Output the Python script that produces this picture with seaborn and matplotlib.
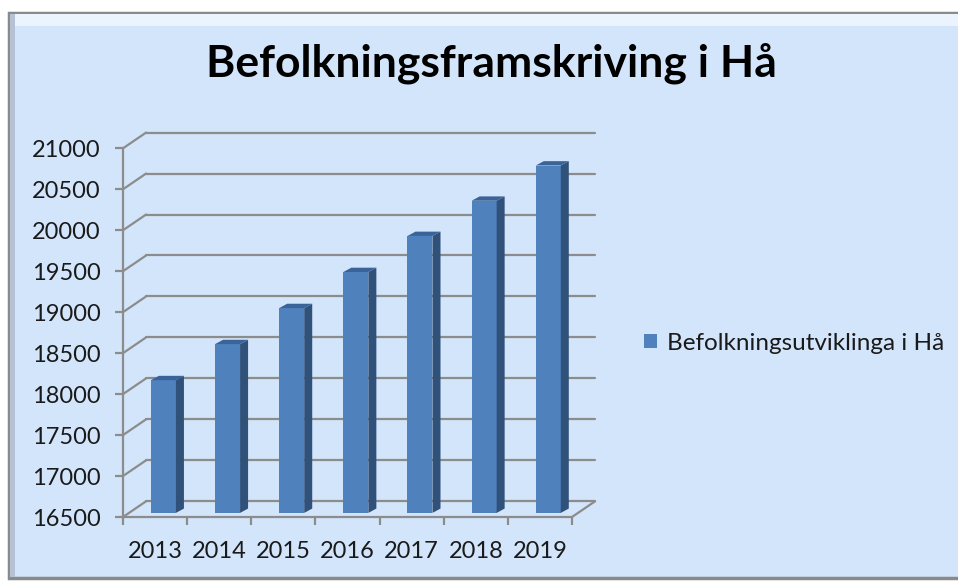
import numpy as np
import pandas as pd
import matplotlib.pyplot as plt
import seaborn as sns
from matplotlib.patches import Rectangle, Polygon

years = ['2013', '2014', '2015', '2016', '2017', '2018', '2019']
pop = [18120, 18560, 19000, 19440, 19880, 20310, 20740]
series_name = 'Befolkningsutviklinga i Hå'
title = 'Befolkningsframskriving i Hå'
y_ticks = list(range(16500, 21001, 500))

df = pd.DataFrame({'year': years, 'pop': pop})

sns.set_style('white')
plt.rcParams['font.family'] = ['Lato', 'DejaVu Sans']

fig = plt.figure(figsize=(9.58, 5.81), dpi=100)
fig.patch.set_facecolor('white')

# chart area
W, H = 958, 581
fig.patches.append(Rectangle((9 / W, 1 - 578 / H), 960 / W, (578 - 13) / H,
                             transform=fig.transFigure, facecolor='#D3E5FB',
                             edgecolor='#8A8A8A', linewidth=2.5, zorder=-5))
fig.patches.append(Rectangle((11 / W, 1 - 26 / H), 960 / W, 12 / H,
                             transform=fig.transFigure, facecolor='#EAF3FE',
                             edgecolor='none', zorder=-4))
fig.patches.append(Rectangle((10 / W, 1 - 577 / H), 5 / W, (577 - 14) / H,
                             transform=fig.transFigure, facecolor='#B4C2D4',
                             edgecolor='none', zorder=-4))

ax = fig.add_axes([123 / W, 1 - 517 / H, 449 / W, (517 - 148.3) / H])
ax.set_facecolor('none')

grid_c = '#8C8C8C'
ymin, ymax = 16500, 21000
DX, DY = 0.36, 192      # depth of the floor / back wall
SX, SY = 0.13, 50       # front face offset of bars
BX, BY = 0.125, 53      # bar depth

sns.barplot(data=df, x='year', y='pop', color='#4F81BD', width=0.39,
            saturation=1, linewidth=0, label=series_name, ax=ax, zorder=3)

# back wall gridlines and the floor/wall diagonals
n = len(years)
for v in y_ticks:
    ax.plot([-0.5 + DX, n - 0.5 + DX], [v + DY, v + DY], color=grid_c, lw=1.6,
            clip_on=False, zorder=1)
    ax.plot([-0.5, -0.5 + DX], [v, v + DY], color=grid_c, lw=1.6,
            clip_on=False, zorder=1)
ax.plot([n - 0.5, n - 0.5 + DX], [ymin, ymin + DY], color=grid_c, lw=1.6,
        clip_on=False, zorder=1)

# turn flat bars into 3d-looking boxes
for p, val in zip(ax.patches, pop):
    x0 = p.get_x() + SX
    w = p.get_width()
    base = ymin + SY
    top = val + SY
    p.set_x(x0)
    p.set_y(base)
    p.set_height(top - base)
    p.set_clip_on(False)
    side = Polygon([(x0 + w, base), (x0 + w, top), (x0 + w + BX, top + BY),
                    (x0 + w + BX, base + BY)], closed=True,
                   facecolor='#30527A', edgecolor='none', zorder=3, clip_on=False)
    cap = Polygon([(x0, top), (x0 + w, top), (x0 + w + BX, top + BY),
                   (x0 + BX, top + BY)], closed=True,
                  facecolor='#3A6397', edgecolor='none', zorder=3, clip_on=False)
    ax.add_patch(side)
    ax.add_patch(cap)

ax.set_xlim(-0.5, n - 0.5)
ax.set_ylim(ymin, ymax)
ax.set_yticks(y_ticks)
ax.set_yticklabels([str(t) for t in y_ticks])
ax.set_xticks(range(n))
ax.set_xticklabels(years)
ax.set_xticks(np.arange(-0.5, n, 1), minor=True)
ax.set_xlabel('')
ax.set_ylabel('')

for s in ['top', 'right']:
    ax.spines[s].set_visible(False)
for s in ['left', 'bottom']:
    ax.spines[s].set_color(grid_c)
    ax.spines[s].set_linewidth(1.6)

ax.tick_params(axis='y', length=6, width=1.6, color=grid_c, labelsize=17,
               labelcolor='#1A1A1A', pad=10, left=True)
ax.tick_params(axis='x', which='major', length=0, labelsize=17,
               labelcolor='#1A1A1A', pad=17)
ax.tick_params(axis='x', which='minor', length=6, width=1.6, color=grid_c,
               bottom=True)

leg = ax.legend(loc='center left', bbox_to_anchor=(644 / W, 1 - 343 / H),
                bbox_transform=fig.transFigure, frameon=False, fontsize=17.5,
                handlelength=0.54, handleheight=0.54, handletextpad=0.42,
                borderpad=0, borderaxespad=0, labelcolor='#1A1A1A')

fig.text(491 / W, 1 - 63 / H, title, ha='center', va='center',
         fontsize=32, fontweight='bold', color='black')

fig.savefig('out.png', dpi=100)
